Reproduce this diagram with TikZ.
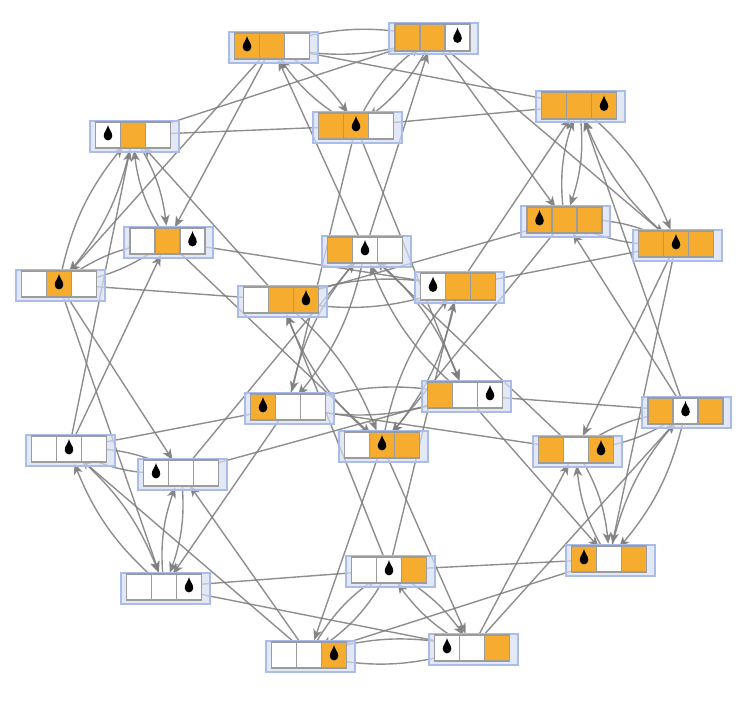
\documentclass[tikz,border=0pt]{standalone}
\usetikzlibrary{arrows.meta,bending}
\definecolor{cO}{HTML}{F6AC2F}
\definecolor{cW}{HTML}{FFFFFF}
\definecolor{cellline}{HTML}{9C9C9C}
\definecolor{outerfill}{HTML}{D7DEF4}
\definecolor{outerline}{HTML}{AABCEA}
\definecolor{edgecol}{HTML}{7E7E7E}
\pgfdeclarelayer{edgelayer}
\pgfdeclarelayer{outerlayer}
\pgfsetlayers{edgelayer,outerlayer,main}
\tikzset{
  outerbox/.style={draw=outerline,fill=outerfill,fill opacity=.7,line width=2pt,minimum width=89pt,minimum height=31pt,inner sep=0pt,outer sep=0pt},
  statebox/.style={minimum width=75pt,minimum height=26.5pt,inner sep=0pt,outer sep=0pt},
  cellbox/.style={draw=cellline,line width=1.7pt,minimum width=25pt,minimum height=26.5pt,inner sep=0pt,outer sep=0pt},
  edgeline/.style={draw=edgecol,opacity=.88,line width=1.4pt,shorten >=15.5pt,-{Stealth[length=11pt,width=9pt,inset=3pt,flex]}},
  drop/.pic={\fill[black] (0,-10) .. controls (0.6,-6) and (4.3,-3) .. (4.3,1) .. controls (4.3,3.4) and (2.3,5.4) .. (0,5.4) .. controls (-2.3,5.4) and (-4.3,3.4) .. (-4.3,1) .. controls (-4.3,-3) and (-0.6,-6) .. cycle;}
}
\newcommand\st[7]{%
  \begin{pgfonlayer}{outerlayer}
    \node[outerbox] (#1o) at (#2,#3) {};
  \end{pgfonlayer}
  \node[statebox] (#1) at (#2-1,#3-1) {};
  \node[cellbox,fill=c#4] (#1-1) at (#2-26,#3-1) {};
  \node[cellbox,fill=c#5] (#1-2) at (#2-1,#3-1) {};
  \node[cellbox,fill=c#6] (#1-3) at (#2+24,#3-1) {};
  \pic at (#1-#7) {drop};
}
\begin{document}
\begin{tikzpicture}[x=1pt,y=-1pt]
\useasboundingbox (0,0) rectangle (752,718);
\st{A}{273}{47}{O}{O}{W}{1}
\st{B}{433.5}{38.5}{O}{O}{W}{3}
\st{C}{357}{127}{O}{O}{W}{2}
\st{D}{580}{106.5}{O}{O}{O}{3}
\st{E}{134}{136}{W}{O}{W}{1}
\st{F}{168.5}{242}{W}{O}{W}{3}
\st{G}{565.5}{221}{O}{O}{O}{1}
\st{H}{677}{245}{O}{O}{O}{2}
\st{I}{60}{285}{W}{O}{W}{2}
\st{J}{366}{251}{O}{W}{W}{2}
\st{K}{282}{301}{W}{O}{O}{3}
\st{L}{459}{287.5}{W}{O}{O}{1}
\st{M}{289}{408}{O}{W}{W}{1}
\st{N}{466}{396}{O}{W}{W}{3}
\st{O}{383}{446}{W}{O}{O}{2}
\st{P}{686.5}{412}{O}{W}{O}{2}
\st{Q}{577}{451}{O}{W}{O}{3}
\st{R}{70}{450}{W}{W}{W}{2}
\st{S}{182}{474}{W}{W}{W}{1}
\st{T}{165}{588}{W}{W}{W}{3}
\st{U}{390}{571}{W}{W}{O}{2}
\st{V}{610}{560}{O}{W}{O}{1}
\st{W}{310}{656}{W}{W}{O}{3}
\st{X}{473}{649}{W}{W}{O}{1}
\begin{pgfonlayer}{edgelayer}
\foreach \a/\b in {A/C,C/A,A/B,B/A,C/B,B/C,
  G/H,H/G,G/D,D/G,H/D,D/H,
  E/I,I/E,E/F,F/E,I/F,F/I,
  M/J,J/M,M/N,N/M,J/N,N/J,
  L/O,O/L,L/K,K/L,O/K,K/O,
  V/P,P/V,V/Q,Q/V,P/Q,Q/P,
  S/R,R/S,S/T,T/S,R/T,T/R,
  X/U,U/X,X/W,W/X,U/W,W/U}
  \draw[edgeline] (\a.center) to[bend left=15] (\b.center);
\foreach \a/\b in {A/I,A/F,C/M,C/N,B/G,B/H,
  G/O,G/K,H/V,H/Q,D/A,D/C,
  E/C,E/B,I/S,I/T,F/L,F/O,
  M/R,M/T,J/A,J/B,N/V,N/P,
  L/H,L/D,O/X,O/W,K/E,K/I,
  V/U,V/W,P/G,P/D,Q/M,Q/J,
  S/J,S/N,R/E,R/F,T/X,T/U,
  X/P,X/Q,U/L,U/K,W/S,W/R}
  \draw[edgeline] (\a.center) -- (\b.center);
\end{pgfonlayer}
\end{tikzpicture}
\end{document}
